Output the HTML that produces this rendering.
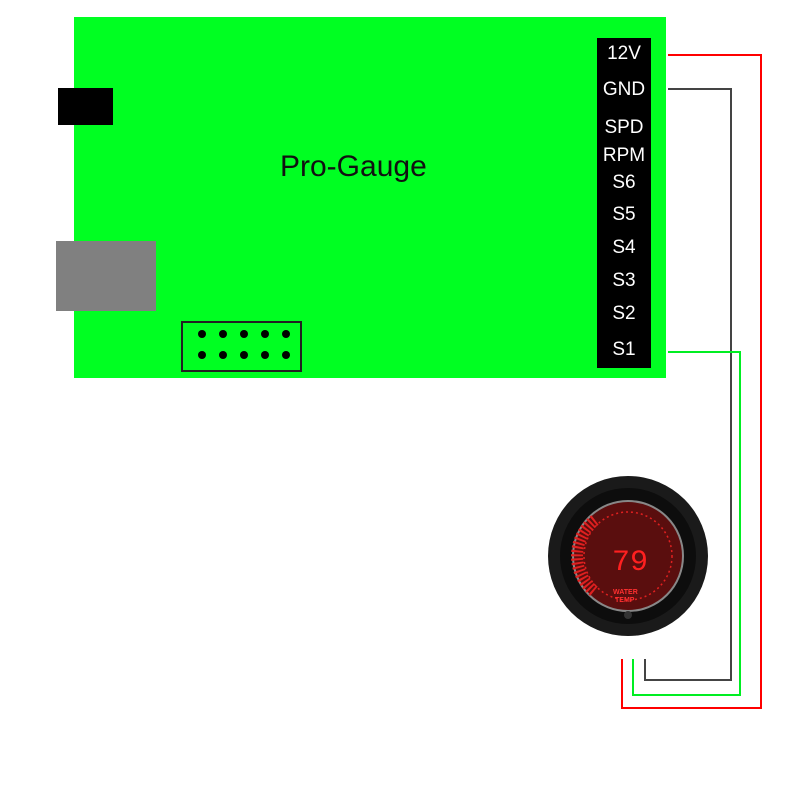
<!DOCTYPE html>
<html><head><style>
body{margin:0;width:800px;height:800px;background:#fff;position:relative;overflow:hidden;font-family:"Liberation Sans",sans-serif}
.a{position:absolute}
.lbl{position:absolute;left:597px;width:54px;text-align:center;color:#fff;font-size:19px}
</style></head><body>
<div class="a" style="left:74px;top:17px;width:592px;height:361px;background:#00ff22"></div>
<div class="a" style="left:58px;top:88px;width:55px;height:37px;background:#000"></div>
<div class="a" style="left:56px;top:241px;width:100px;height:70px;background:#808080"></div>
<div class="a" style="left:181px;top:321px;width:121px;height:51px;border:2px solid #222;box-sizing:border-box"></div>
<svg class="a" style="left:0;top:0" width="800" height="800">
<g fill="#000">
<circle cx="202" cy="334" r="4"/><circle cx="223" cy="334" r="4"/><circle cx="244" cy="334" r="4"/><circle cx="265" cy="334" r="4"/><circle cx="286" cy="334" r="4"/>
<circle cx="202" cy="355" r="4"/><circle cx="223" cy="355" r="4"/><circle cx="244" cy="355" r="4"/><circle cx="265" cy="355" r="4"/><circle cx="286" cy="355" r="4"/>
</g>
<polyline points="668,55 761,55 761,708 622,708 622,659" fill="none" stroke="#f00" stroke-width="2"/>
<polyline points="668,89 731,89 731,680 645,680 645,659" fill="none" stroke="#444" stroke-width="2"/>
<polyline points="668,352 740,352 740,695 633,695 633,659" fill="none" stroke="#00ee22" stroke-width="2"/>
<circle cx="628" cy="556" r="80" fill="#1a1a1a"/>
<circle cx="628" cy="556" r="68" fill="#0d0d0d"/>
<circle cx="628" cy="556" r="55" fill="#5a0e0e" stroke="#888" stroke-width="2"/>
<path d="M 595 520 A 45 45 0 0 0 595 592" fill="none" stroke="#e02020" stroke-width="12" stroke-dasharray="2 2"/>
<circle cx="628" cy="556" r="44" fill="none" stroke="#e02020" stroke-width="1.5" stroke-dasharray="2 3"/>
<text x="612" y="570" fill="#ff2020" font-size="30" font-family="Liberation Mono">79</text>
<text x="613" y="594" fill="#ff3030" font-size="7" font-weight="bold">WATER</text>
<text x="615" y="602" fill="#ff3030" font-size="7" font-weight="bold">TEMP</text>
<circle cx="628" cy="615" r="4" fill="#333"/>
</svg>
<div class="a" style="left:597px;top:38px;width:54px;height:330px;background:#000"></div>
<div class="lbl" style="top:43px">12V</div>
<div class="lbl" style="top:79px">GND</div>
<div class="lbl" style="top:117px">SPD</div>
<div class="lbl" style="top:145px">RPM</div>
<div class="lbl" style="top:172px">S6</div>
<div class="lbl" style="top:204px">S5</div>
<div class="lbl" style="top:237px">S4</div>
<div class="lbl" style="top:270px">S3</div>
<div class="lbl" style="top:303px">S2</div>
<div class="lbl" style="top:339px">S1</div>
<div class="a" style="left:280px;top:150px;font-size:30px;color:#111">Pro-Gauge</div>
</body></html>
